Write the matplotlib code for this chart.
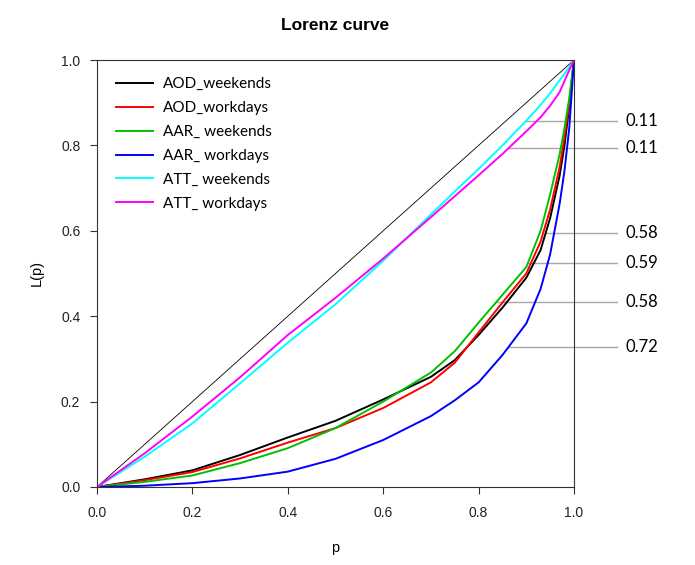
import numpy as np
import matplotlib
matplotlib.use("Agg")
import matplotlib.pyplot as plt

# cumulative share of population
p = [0, 0.1, 0.2, 0.3, 0.4, 0.5, 0.6, 0.7, 0.75, 0.8, 0.85, 0.9, 0.93, 0.95, 0.97, 0.98, 0.99, 1.0]

# Lorenz curves
aod_weekends = [0, 0.018, 0.039, 0.075, 0.116, 0.155, 0.205, 0.258, 0.297, 0.356, 0.42, 0.49, 0.555, 0.63, 0.73, 0.80, 0.89, 1.0]
aod_workdays = [0, 0.016, 0.035, 0.067, 0.104, 0.138, 0.185, 0.245, 0.291, 0.362, 0.432, 0.50, 0.575, 0.65, 0.75, 0.82, 0.90, 1.0]
aar_weekends = [0, 0.012, 0.027, 0.056, 0.091, 0.138, 0.200, 0.268, 0.318, 0.385, 0.45, 0.515, 0.60, 0.685, 0.78, 0.84, 0.91, 1.0]
aar_workdays = [0, 0.003, 0.009, 0.020, 0.036, 0.066, 0.110, 0.166, 0.203, 0.245, 0.309, 0.383, 0.464, 0.545, 0.664, 0.74, 0.84, 1.0]
att_weekends = [0, 0.071, 0.149, 0.243, 0.338, 0.428, 0.530, 0.638, 0.692, 0.745, 0.80, 0.858, 0.895, 0.922, 0.953, 0.967, 0.983, 1.0]
att_workdays = [0, 0.079, 0.165, 0.257, 0.356, 0.443, 0.535, 0.632, 0.681, 0.730, 0.78, 0.833, 0.866, 0.893, 0.925, 0.951, 0.976, 1.0]

names = ["AOD_weekends", "AOD_workdays", "AAR_ weekends", "AAR_ workdays", "ATT_ weekends", "ATT_ workdays"]
curves = [aod_weekends, aod_workdays, aar_weekends, aar_workdays, att_weekends, att_workdays]
colors = ["black", "#ff0000", "#00c000", "#0000ff", "#00ffff", "#ff00ff"]

# Gini labels on the right and the curve each leader line points at
gini_text = ["0.11", "0.11", "0.58", "0.59", "0.58", "0.72"]
gini_curve = ["ATT_ weekends", "ATT_ workdays", "AOD_weekends", "AAR_ weekends", "AAR_ weekends", "AAR_ workdays"]
gini_level = [0.857, 0.794, 0.595, 0.525, 0.433, 0.328]

fig = plt.figure(figsize=(6.95, 5.65), dpi=100)
ax = fig.add_axes([97 / 695, 1 - 487 / 565, 477 / 695, 427 / 565])

ax.plot([0, 1], [0, 1], color="black", lw=0.6)
for name, c, col in zip(names, curves, colors):
    ax.plot(p, c, color=col, lw=1.4, label=name)

ax.set_xlim(0, 1)
ax.set_ylim(0, 1)
ax.set_xticks(np.arange(0, 1.01, 0.2))
ax.set_yticks(np.arange(0, 1.01, 0.2))
ax.xaxis.set_major_formatter(matplotlib.ticker.FormatStrFormatter("%.1f"))
ax.yaxis.set_major_formatter(matplotlib.ticker.FormatStrFormatter("%.1f"))
for lab in ax.get_xticklabels() + ax.get_yticklabels():
    lab.set_family("Liberation Sans")
    lab.set_fontsize(10)
    lab.set_color("#222222")
ax.tick_params(axis="x", direction="out", length=5, width=0.8, pad=9, color="#333333")
ax.tick_params(axis="y", direction="out", length=5, width=0.8, pad=7, color="#333333")
for s in ax.spines.values():
    s.set_linewidth(0.8)
    s.set_color("#333333")

leg = ax.legend(loc="upper left", bbox_to_anchor=(0.04, 0.960), frameon=False,
                borderpad=0, borderaxespad=0, handlelength=2.4, handletextpad=0.65,
                labelspacing=0.65, prop={"family": "Lato", "size": 11})

for txt, cname, lvl in zip(gini_text, gini_curve, gini_level):
    c = curves[names.index(cname)]
    x0 = np.interp(lvl, c, p)
    ax.plot([x0, 1.09], [lvl, lvl], color="#a8a8a8", lw=1.0, clip_on=False, zorder=0)
    ax.text(1.108, lvl, txt, ha="left", va="center", family="Lato", fontsize=12, clip_on=False)

fig.text(335 / 695, 1 - 25 / 565, "Lorenz curve", ha="center", va="center",
         family="Liberation Sans", fontsize=12.5, fontweight="bold")
fig.text(335 / 695, 1 - 548 / 565, "p", ha="center", va="center",
         family="Liberation Sans", fontsize=10.5)
fig.text(37 / 695, 1 - 273 / 565, "L(p)", ha="center", va="center", rotation=90,
         family="Liberation Sans", fontsize=10.5)

fig.savefig("out.png", dpi=100)
